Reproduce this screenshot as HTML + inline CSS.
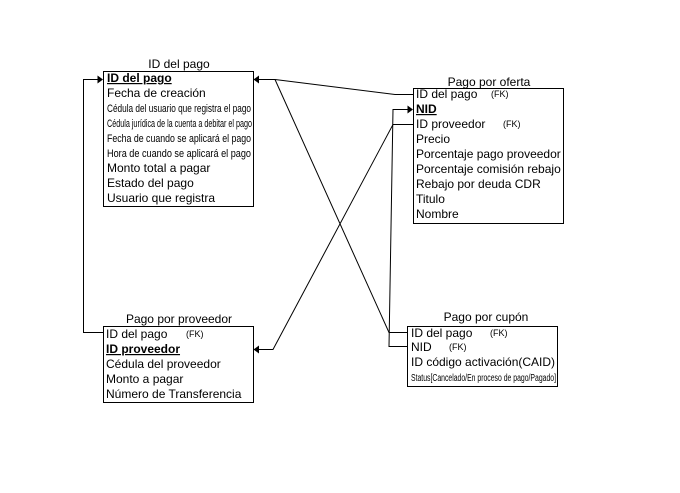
<!DOCTYPE html>
<html><head><meta charset="utf-8"><style>
html,body{margin:0;padding:0;background:#fff;}
svg{display:block;}
text{font-family:"Liberation Sans",Arial,sans-serif;fill:#000;}
.t{font-size:12px;}
.s{font-size:11px;}
.fk{font-size:9px;}
.st{font-size:10px;}
.b{font-weight:bold;text-decoration:underline;}
</style></head><body>
<svg width="680" height="493" viewBox="0 0 680 493" xmlns="http://www.w3.org/2000/svg">
<rect x="0" y="0" width="680" height="493" fill="#fff"/>
<g fill="none" stroke="#000" stroke-width="1">
<rect x="103.5" y="71.5" width="150" height="135"/>
<rect x="413.5" y="88.5" width="150" height="135"/>
<rect x="103.5" y="326.5" width="150" height="76"/>
<rect x="407.5" y="326.5" width="150" height="60"/>
<polyline points="103,332.5 83.5,332.5 83.5,79.5 98,79.5"/>
<polyline points="413,94.5 395,94.5 275,79.5 258,79.5"/>
<polyline points="275,79.5 389,332.5 407,332.5"/>
<polyline points="407,346.5 389,346.5 393,109.5 408,109.5"/>
<polyline points="413,124.5 393,124.5 273,349.5 258,349.5"/>
</g>
<g fill="#000">
<polygon points="103,79.5 97.5,75.5 97.5,83.5"/>
<polygon points="253.5,79.5 259,75.5 259,83.5"/>
<polygon points="413,109.5 407.5,105.5 407.5,113.5"/>
<polygon points="253.5,349.5 259,345.5 259,353.5"/>
</g>
<text class="t" x="179" y="68" text-anchor="middle">ID del pago</text>
<text class="t" x="489" y="86" text-anchor="middle">Pago por oferta</text>
<text class="t" x="179" y="323" text-anchor="middle">Pago por proveedor</text>
<text class="t" x="486" y="321" text-anchor="middle">Pago por cupón</text>
<text class="t b" x="107" y="82">ID del pago</text>
<text class="t" x="107" y="97">Fecha de creación</text>
<text class="s" x="107" y="112" textLength="144" lengthAdjust="spacingAndGlyphs">Cédula del usuario que registra el pago</text>
<text class="s" x="107" y="127" textLength="145" lengthAdjust="spacingAndGlyphs">Cédula jurídica de la cuenta a debitar el pago</text>
<text class="s" x="107" y="142" textLength="144" lengthAdjust="spacingAndGlyphs">Fecha de cuando se aplicará el pago</text>
<text class="s" x="107" y="157" textLength="144" lengthAdjust="spacingAndGlyphs">Hora de cuando se aplicará el pago</text>
<text class="t" x="107" y="172">Monto total a pagar</text>
<text class="t" x="107" y="187">Estado del pago</text>
<text class="t" x="107" y="202">Usuario que registra</text>
<text class="t" x="416" y="98">ID del pago</text>
<text class="fk" x="491" y="97">(FK)</text>
<text class="t b" x="416" y="113">NID</text>
<text class="t" x="416" y="128">ID proveedor</text>
<text class="fk" x="503" y="127">(FK)</text>
<text class="t" x="416" y="143">Precio</text>
<text class="t" x="416" y="158">Porcentaje pago proveedor</text>
<text class="t" x="416" y="173">Porcentaje comisión rebajo</text>
<text class="t" x="416" y="188">Rebajo por deuda CDR</text>
<text class="t" x="416" y="203">Titulo</text>
<text class="t" x="416" y="218">Nombre</text>
<text class="t" x="106" y="338">ID del pago</text>
<text class="fk" x="186" y="337">(FK)</text>
<text class="t b" x="106" y="353">ID proveedor</text>
<text class="t" x="106" y="368">Cédula del proveedor</text>
<text class="t" x="106" y="383">Monto a pagar</text>
<text class="t" x="106" y="398">Número de Transferencia</text>
<text class="t" x="411" y="337">ID del pago</text>
<text class="fk" x="490" y="336">(FK)</text>
<text class="t" x="411" y="351">NID</text>
<text class="fk" x="449" y="350">(FK)</text>
<text class="t" x="411" y="366">ID código activación(CAID)</text>
<text class="st" x="411" y="381" textLength="145" lengthAdjust="spacingAndGlyphs">Status[Cancelado/En proceso de pago/Pagado]</text>
</svg>
</body></html>
